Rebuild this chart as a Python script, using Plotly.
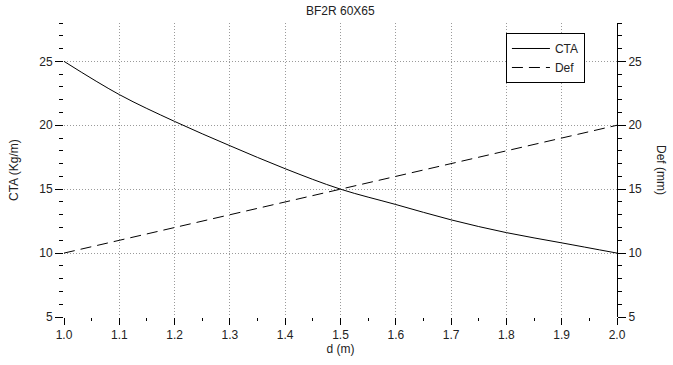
import plotly.graph_objects as go

# Data
d_m = [1.0, 1.1, 1.2, 1.3, 1.4, 1.5, 1.6, 1.7, 1.8, 1.9, 2.0]
cta_kgm = [25.0, 22.4, 20.3, 18.4, 16.6, 15.0, 13.8, 12.6, 11.6, 10.8, 10.0]
def_mm = [10.0, 11.0, 12.0, 13.0, 14.0, 15.0, 16.0, 17.0, 18.0, 19.0, 20.0]

x_grid_vals = [1.1, 1.2, 1.3, 1.4, 1.5, 1.6, 1.7, 1.8, 1.9]
y_grid_vals = [10, 15, 20, 25]

title_text = "BF2R 60X65"
FONT = "Liberation Sans, Arial, Helvetica, sans-serif"
TXT = "#222222"
GRID = "#9a9a9a"

fig = go.Figure()
fig.add_trace(go.Scatter(x=d_m, y=cta_kgm, name="CTA", mode="lines",
                         line=dict(color="black", width=1, shape="spline"),
                         xaxis="x", yaxis="y"))
fig.add_trace(go.Scatter(x=d_m, y=def_mm, name="Def", mode="lines",
                         line=dict(color="black", width=1, dash="11px,6px"),
                         xaxis="x", yaxis="y2"))

yr = [5, 28]
xr = [1.0, 2.0]

fig.update_layout(
    width=673, height=365,
    margin=dict(l=64, r=56, t=23, b=45),
    paper_bgcolor="white", plot_bgcolor="white",
    font=dict(family=FONT, size=12, color=TXT),
    showlegend=True,
    legend=dict(x=0.942, y=0.966, xanchor="right", yanchor="top",
                bgcolor="white", bordercolor="black", borderwidth=1,
                font=dict(size=12, color=TXT), tracegroupgap=0,
                itemwidth=38),
    xaxis=dict(range=xr, showgrid=False, zeroline=False, showline=False,
               ticks="outside", ticklen=7, tickcolor="black", tickwidth=1,
               dtick=0.1, tick0=1.0, tickformat=".1f",
               minor=dict(dtick=0.05, ticks="outside", ticklen=3,
                          tickcolor="black", showgrid=False),
               title=dict(text="d (m)", standoff=2, font=dict(size=12, color=TXT)),
               tickfont=dict(size=12, color=TXT)),
    xaxis2=dict(range=xr, overlaying="x", matches="x", showgrid=True,
                gridcolor=GRID, griddash="1px,2px", gridwidth=1,
                tickmode="array", tickvals=x_grid_vals, showticklabels=False,
                ticks="", zeroline=False, showline=False),
    yaxis=dict(range=yr, showgrid=False, zeroline=False, showline=False,
               ticks="outside", ticklen=8, tickcolor="black", tickwidth=1,
               dtick=5, tick0=5,
               minor=dict(dtick=1, ticks="outside", ticklen=4,
                          tickcolor="black", showgrid=False),
               tickfont=dict(size=12, color=TXT)),
    yaxis2=dict(range=yr, overlaying="y", side="right", showgrid=False,
                zeroline=False, showline=True, linecolor="black", linewidth=1,
                ticks="outside", ticklen=8, tickcolor="black", tickwidth=1,
                dtick=5, tick0=5,
                minor=dict(dtick=1, ticks="outside", ticklen=4,
                           tickcolor="black", showgrid=False),
                tickfont=dict(size=12, color=TXT)),
    yaxis3=dict(range=yr, overlaying="y", showgrid=True, gridcolor=GRID,
                griddash="1px,2px", gridwidth=1, tickmode="array",
                tickvals=y_grid_vals, showticklabels=False, ticks="",
                zeroline=False, showline=False),
    annotations=[
        dict(text=title_text, xref="paper", yref="paper", x=0.5, y=1,
             yshift=12, showarrow=False, font=dict(size=12, color=TXT),
             xanchor="center", yanchor="middle"),
        dict(text="CTA (Kg/m)", xref="paper", yref="paper", x=0, y=0.5,
             xshift=-50, showarrow=False, textangle=-90,
             font=dict(size=12, color=TXT), xanchor="center", yanchor="middle"),
        dict(text="Def (mm)", xref="paper", yref="paper", x=1, y=0.5,
             xshift=44, showarrow=False, textangle=90,
             font=dict(size=12, color=TXT), xanchor="center", yanchor="middle"),
    ],
)

# Invisible trace to activate grid-only overlay axes
fig.add_trace(go.Scatter(x=[d_m[0]], y=[cta_kgm[0]], xaxis="x2", yaxis="y3",
                         mode="markers", marker=dict(opacity=0),
                         showlegend=False, hoverinfo="skip"))

fig.write_html("out.html", config={"displayModeBar": False},
               post_script="document.body.style.margin='0';document.body.style.padding='0';")
